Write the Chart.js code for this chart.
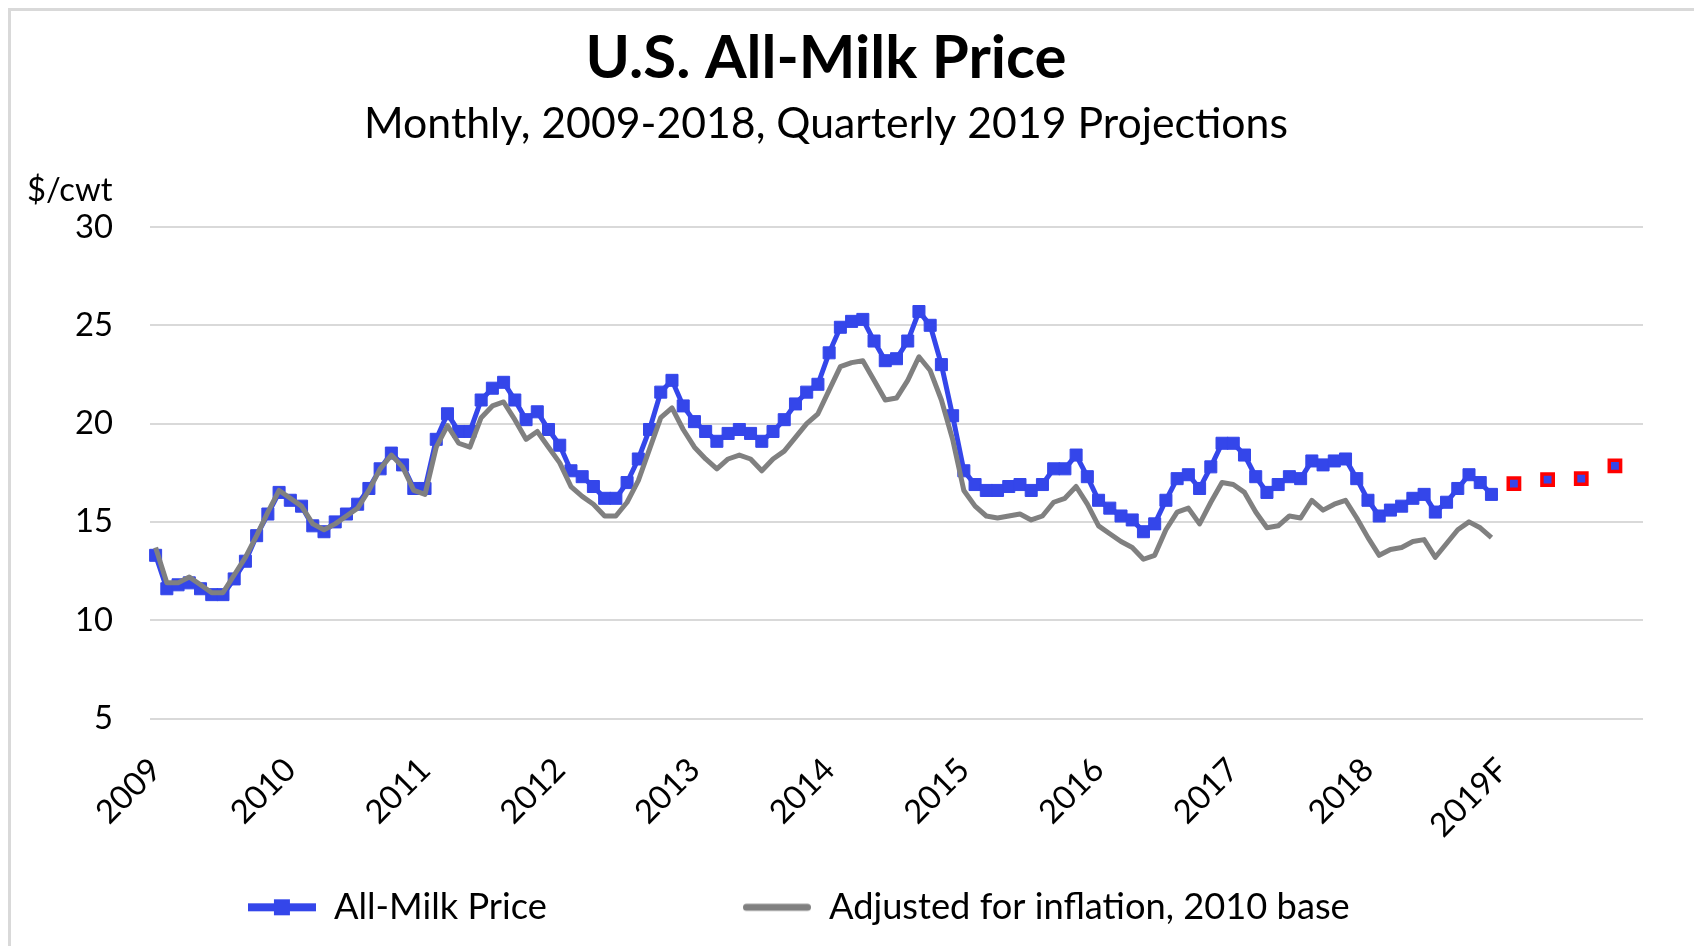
<!DOCTYPE html>
<html>
<head>
<meta charset="utf-8">
<script src="https://cdn.jsdelivr.net/npm/chart.js@4.4.1/dist/chart.umd.min.js"></script>
<style>
  html, body { margin: 0; padding: 0; background: #ffffff; overflow: hidden; width: 1694px; height: 946px; }
  #wrap { position: absolute; left: 0; top: 0; width: 1694px; height: 946px; }
  #frame { position: absolute; left: 8px; top: 8px; width: 2000px; height: 2000px; border: 3px solid #D9D9D9; pointer-events: none; }
</style>
</head>
<body>
<div id="wrap"><canvas id="chart" width="1694" height="946"></canvas></div>
<div id="frame"></div>
<script>
// ---------------- data ----------------
const years = [2009, 2010, 2011, 2012, 2013, 2014, 2015, 2016, 2017, 2018, 2019];
const yearTickLabels = ['2009', '2010', '2011', '2012', '2013', '2014', '2015', '2016', '2017', '2018', '2019F'];
const monthNames = ['Jan', 'Feb', 'Mar', 'Apr', 'May', 'Jun', 'Jul', 'Aug', 'Sep', 'Oct', 'Nov', 'Dec'];

// All-Milk price, $/cwt, monthly Jan 2009 - Dec 2018
const allMilkPrice = [
  13.3, 11.6, 11.8, 11.9, 11.6, 11.3, 11.3, 12.1, 13.0, 14.3, 15.4, 16.5,
  16.1, 15.8, 14.8, 14.5, 15.0, 15.4, 15.9, 16.7, 17.7, 18.5, 17.9, 16.7,
  16.7, 19.2, 20.5, 19.6, 19.6, 21.2, 21.8, 22.1, 21.2, 20.2, 20.6, 19.7,
  18.9, 17.6, 17.3, 16.8, 16.2, 16.2, 17.0, 18.2, 19.7, 21.6, 22.2, 20.9,
  20.1, 19.6, 19.1, 19.5, 19.7, 19.5, 19.1, 19.6, 20.2, 21.0, 21.6, 22.0,
  23.6, 24.9, 25.2, 25.3, 24.2, 23.2, 23.3, 24.2, 25.7, 25.0, 23.0, 20.4,
  17.6, 16.9, 16.6, 16.6, 16.8, 16.9, 16.6, 16.9, 17.7, 17.7, 18.4, 17.3,
  16.1, 15.7, 15.3, 15.1, 14.5, 14.9, 16.1, 17.2, 17.4, 16.7, 17.8, 19.0,
  19.0, 18.4, 17.3, 16.5, 16.9, 17.3, 17.2, 18.1, 17.9, 18.1, 18.2, 17.2,
  16.1, 15.3, 15.6, 15.8, 16.2, 16.4, 15.5, 16.0, 16.7, 17.4, 17.0, 16.4
];

// Adjusted for inflation, 2010 base, $/cwt
const adjustedPrice = [
  13.7, 11.9, 11.9, 12.2, 11.8, 11.4, 11.4, 12.3, 13.2, 14.3, 15.5, 16.6,
  16.2, 15.8, 14.9, 14.6, 14.9, 15.3, 15.7, 16.6, 17.7, 18.4, 17.8, 16.6,
  16.4, 18.8, 19.9, 19.0, 18.8, 20.3, 20.9, 21.1, 20.2, 19.2, 19.6, 18.8,
  18.0, 16.8, 16.3, 15.9, 15.3, 15.3, 16.0, 17.1, 18.7, 20.3, 20.8, 19.7,
  18.8, 18.2, 17.7, 18.2, 18.4, 18.2, 17.6, 18.2, 18.6, 19.3, 20.0, 20.5,
  21.7, 22.9, 23.1, 23.2, 22.2, 21.2, 21.3, 22.2, 23.4, 22.7, 21.2, 19.2,
  16.6, 15.8, 15.3, 15.2, 15.3, 15.4, 15.1, 15.3, 16.0, 16.2, 16.8, 15.9,
  14.8, 14.4, 14.0, 13.7, 13.1, 13.3, 14.6, 15.5, 15.7, 14.9, 16.0, 17.0,
  16.9, 16.5, 15.5, 14.7, 14.8, 15.3, 15.2, 16.1, 15.6, 15.9, 16.1, 15.2,
  14.2, 13.3, 13.6, 13.7, 14.0, 14.1, 13.2, 13.9, 14.6, 15.0, 14.7, 14.2
];

// Quarterly 2019 projections (plotted at mid-quarter months)
const forecastMonths = ['Feb 2019', 'May 2019', 'Aug 2019', 'Nov 2019'];
const forecastPrice = [16.95, 17.15, 17.2, 17.85];

const yTickValues = [5, 10, 15, 20, 25, 30];

// category axis: every month 2009-2019 plus one trailing empty slot
const categories = [];
years.forEach(y => monthNames.forEach(m => categories.push(m + ' ' + y)));
categories.push('');

// ---------------- styling ----------------
const FONT = 'Lato';
const BLUE = '#3446EA';
const GRAY = '#808080';
const RED = '#FF0000';

const mctx = document.createElement('canvas').getContext('2d');
function fitSize(text, weight, target) {
  mctx.font = weight + ' 100px ' + FONT;
  return 100 * target / mctx.measureText(text).width;
}
function capAboveMiddle(weight, size) {
  mctx.font = weight + ' ' + size + 'px ' + FONT;
  mctx.textBaseline = 'middle';
  const a = mctx.measureText('H').actualBoundingBoxAscent;
  mctx.textBaseline = 'alphabetic';
  return a;
}
function textWidth(text, weight, size) {
  mctx.font = weight + ' ' + size + 'px ' + FONT;
  return mctx.measureText(text).width;
}

function build() {
  const TITLE = 'U.S. All-Milk Price';
  const SUBTITLE = 'Monthly, 2009-2018, Quarterly 2019 Projections';
  const titleSize = fitSize(TITLE, 'bold', 481);
  const subSize = fitSize(SUBTITLE, 'normal', 924);
  const tickSize = fitSize('30', 'normal', 38);
  const legendSize = fitSize('Adjusted for inflation, 2010 base', 'normal', 521);

  const PLOT_TOP = 227, PLOT_BOTTOM = 718.5, PLOT_LEFT = 150, PLOT_RIGHT = 1643, PAD_LEFT = 9;
  const H = 946, W = 1694;

  // title
  const tA = capAboveMiddle('bold', titleSize);
  const titlePadTop = 35 + tA - titleSize / 2;
  const titleBottom = titlePadTop + titleSize;
  // subtitle
  const sA = capAboveMiddle('normal', subSize);
  const subPadTop = 107.3 + sA - subSize / 2 - titleBottom;
  const subPadBottom = PLOT_TOP - (titleBottom + subPadTop + subSize);

  // legend
  const LEG_H = 60;
  const lA = capAboveMiddle('normal', legendSize);
  const legendItemTop = 893 + lA - legendSize / 2;
  const legendBoxW = 86 - legendSize / 2;
  const firstItemW = legendBoxW + legendSize / 2 + textWidth('All-Milk Price', 'normal', legendSize);
  const legendGap = 743 - 248 - firstItemW;
  const LEG_START = 248;

  const xAxisH = (H - LEG_H) - PLOT_BOTTOM;

  function makeSymbol(color, lineW, square, cap) {
    const w = 68, h = 22;
    const cv = document.createElement('canvas');
    cv.width = w; cv.height = h;
    const g = cv.getContext('2d');
    g.strokeStyle = color; g.lineWidth = lineW; g.lineCap = cap;
    const inset = cap === 'round' ? lineW / 2 : 0;
    g.beginPath(); g.moveTo(inset, h / 2); g.lineTo(w - inset, h / 2); g.stroke();
    if (square) { g.fillStyle = color; g.fillRect(w / 2 - square / 2, h / 2 - square / 2, square, square); }
    return cv;
  }
  const symbols = [makeSymbol(BLUE, 8, 16, 'butt'), makeSymbol(GRAY, 7, 0, 'round')];

  const unitLabel = {
    id: 'unitLabel',
    afterDraw(chart) {
      const { ctx, chartArea } = chart;
      ctx.save();
      ctx.font = tickSize + 'px ' + FONT;
      ctx.fillStyle = '#000';
      ctx.textAlign = 'left';
      ctx.textBaseline = 'alphabetic';
      ctx.fillText('$/cwt', chartArea.left - 123, chartArea.top - 26);
      ctx.restore();
    }
  };

  const legendPlace = {
    id: 'legendPlace',
    afterLayout(chart) {
      const lg = chart.legend;
      if (!lg || !lg.lineWidths) return;
      const p = lg.options.labels.padding;
      const total = lg.lineWidths[0];
      lg.left = 2 * LEG_START - p - lg.right + total;
      lg.top = legendItemTop - p;
    }
  };

  new Chart(document.getElementById('chart'), {
    type: 'line',
    data: {
      labels: categories,
      datasets: [
        {
          label: 'All-Milk Price',
          data: allMilkPrice,
          borderColor: BLUE,
          backgroundColor: BLUE,
          borderWidth: 5,
          pointStyle: 'rect',
          pointRadius: 8.5,
          pointBackgroundColor: BLUE,
          pointBorderColor: BLUE,
          pointBorderWidth: 1,
          tension: 0,
          order: 2
        },
        {
          label: 'Adjusted for inflation, 2010 base',
          data: adjustedPrice,
          borderColor: GRAY,
          backgroundColor: GRAY,
          borderWidth: 5,
          pointRadius: 0,
          tension: 0,
          borderJoinStyle: 'round',
          order: 1
        },
        {
          label: '2019 Projections',
          data: forecastMonths.map((m, i) => ({ x: m, y: forecastPrice[i] })),
          showLine: false,
          pointStyle: 'rect',
          pointRadius: 8,
          pointBackgroundColor: BLUE,
          pointBorderColor: RED,
          pointBorderWidth: 3.5,
          order: 0
        }
      ]
    },
    options: {
      responsive: false,
      devicePixelRatio: 1,
      animation: false,
      events: [],
      layout: { padding: { left: PAD_LEFT, right: W - PLOT_RIGHT, top: 0, bottom: 0 } },
      scales: {
        x: {
          type: 'category',
          offset: true,
          grid: { display: false, drawTicks: false },
          border: { display: false },
          ticks: {
            autoSkip: false,
            minRotation: 45,
            maxRotation: 45,
            padding: 32,
            color: '#000',
            font: { family: FONT, size: tickSize },
            callback: function (value, index) {
              return index % 12 === 0 && index / 12 < yearTickLabels.length ? yearTickLabels[index / 12] : '';
            }
          },
          afterFit(scale) { scale.height = xAxisH; scale.paddingLeft = 0; scale.paddingRight = 0; }
        },
        y: {
          min: yTickValues[0],
          max: yTickValues[yTickValues.length - 1],
          grid: { color: '#D9D9D9', lineWidth: 2, drawTicks: false },
          border: { display: false },
          afterBuildTicks(scale) { scale.ticks = yTickValues.map(v => ({ value: v })); },
          ticks: {
            padding: PLOT_LEFT - 113,
            color: '#000',
            font: { family: FONT, size: tickSize },
            callback: v => String(v)
          },
          afterFit(scale) { scale.width = PLOT_LEFT - PAD_LEFT; }
        }
      },
      plugins: {
        title: {
          display: true,
          text: TITLE,
          color: '#000',
          font: { family: FONT, weight: 'bold', size: titleSize, lineHeight: 1 },
          padding: { top: titlePadTop, bottom: 0 }
        },
        subtitle: {
          display: true,
          text: SUBTITLE,
          color: '#000',
          font: { family: FONT, weight: 'normal', size: subSize, lineHeight: 1 },
          padding: { top: subPadTop, bottom: subPadBottom }
        },
        legend: {
          display: true,
          position: 'bottom',
          maxHeight: LEG_H,
          labels: {
            usePointStyle: true,
            pointStyleWidth: legendBoxW,
            padding: legendGap,
            color: '#000',
            font: { family: FONT, size: legendSize },
            filter: item => item.datasetIndex !== 2,
            sort: (a, b) => a.datasetIndex - b.datasetIndex,
            generateLabels(chart) {
              const items = Chart.defaults.plugins.legend.labels.generateLabels(chart);
              items.forEach(it => { if (symbols[it.datasetIndex]) it.pointStyle = symbols[it.datasetIndex]; });
              return items;
            }
          }
        },
        tooltip: { enabled: false }
      }
    },
    plugins: [unitLabel, legendPlace]
  });
}

if (document.fonts && document.fonts.load) {
  Promise.all([
    document.fonts.load('bold 50px ' + FONT),
    document.fonts.load('normal 30px ' + FONT)
  ]).then(build, build);
} else {
  build();
}
</script>
</body>
</html>
